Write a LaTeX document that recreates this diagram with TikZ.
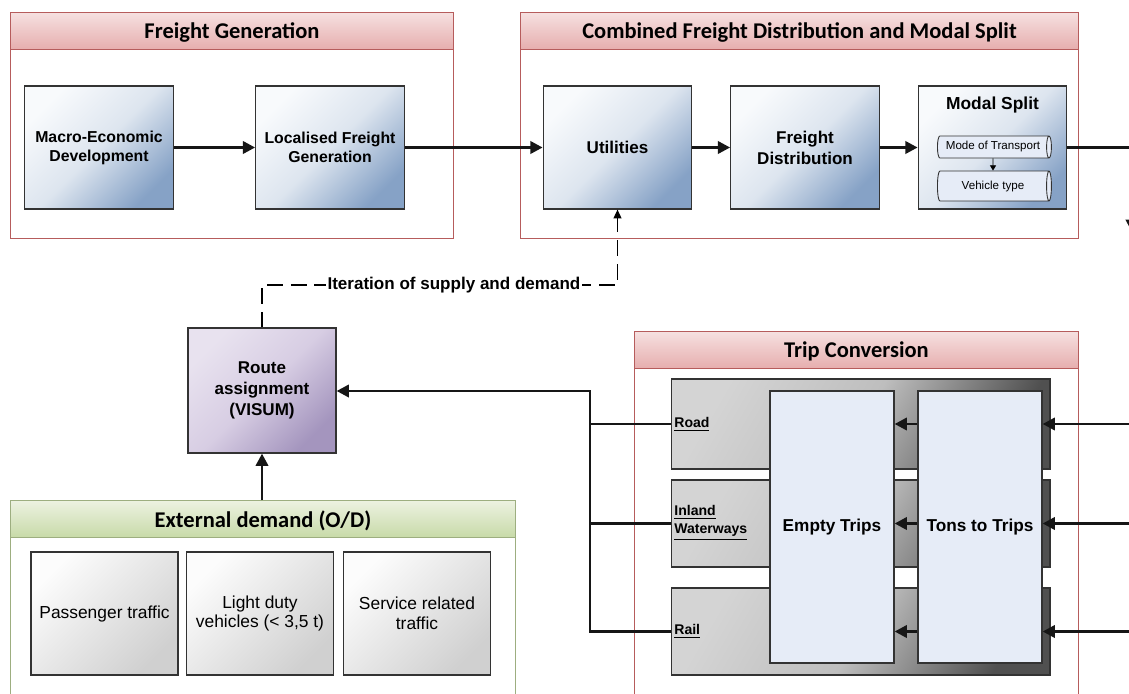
\documentclass[tikz,border=0pt]{standalone}
\usepackage{fontspec}
\setmainfont{Liberation Sans}
\newfontfamily\headfont{Carlito}
\usepackage{xcolor}
\usetikzlibrary{
  arrows.meta,
  positioning,
  shapes.geometric,
}

\definecolor{headtop}{HTML}{F6E0E0}
\definecolor{headbot}{HTML}{E6AEAE}
\definecolor{panelred}{HTML}{B65C5C}
\definecolor{greentop}{HTML}{ECF2E1}
\definecolor{greenbot}{HTML}{C8DAA8}
\definecolor{panelgreen}{HTML}{9DAE80}
\definecolor{bluelight}{HTML}{F8FAFC}
\definecolor{bluemid}{HTML}{DDE5EF}
\definecolor{bluedark}{HTML}{86A2C6}
\definecolor{purplelight}{HTML}{E8E2EF}
\definecolor{purplemid}{HTML}{D7CDE3}
\definecolor{purpledark}{HTML}{A495BE}
\definecolor{greylight}{HTML}{FCFCFC}
\definecolor{greydark}{HTML}{D0D0D0}
\definecolor{rowlight}{HTML}{D4D4D4}
\definecolor{rowmid}{HTML}{BEBEBE}
\definecolor{rowdark}{HTML}{505050}
\definecolor{tripfill}{HTML}{E6ECF7}
\definecolor{boxline}{HTML}{333333}
\definecolor{arrowline}{HTML}{161616}

\begin{document}
\begin{tikzpicture}[
  x=0.02cm, y=-0.02cm,
  every node/.style={align=center},
  panel/.style 2 args={draw=#1, line width=0.6pt, fill=white, anchor=north west,
               minimum width=#2, inner sep=0pt},
  panelhead/.style 2 args={draw=panelred, line width=0.6pt, anchor=north west,
               top color=headtop, bottom color=headbot, minimum width=#1,
               minimum height=0.74cm, inner sep=0pt, text depth=0pt,
               font=\headfont\bfseries\fontsize{12.8}{14}\selectfont},
  stage/.style={draw=boxline, line width=0.7pt, top color=bluelight,
               bottom color=bluedark, middle color=bluemid, shading angle=45,
               minimum width=2.97cm, minimum height=2.46cm, inner sep=1pt,
               font=\bfseries\fontsize{9.7}{11.9}\selectfont},
  odbox/.style={draw=boxline, line width=0.6pt, top color=greylight,
               bottom color=greydark, shading angle=45,
               minimum width=2.94cm, minimum height=2.46cm, inner sep=1pt,
               font=\fontsize{9.9}{11.3}\selectfont},
  modebox/.style={draw=boxline, line width=0.6pt, top color=rowlight,
               bottom color=rowdark, middle color=rowmid, shading angle=60,
               minimum width=7.58cm},
  modelabel/.style={anchor=west, align=left, inner sep=0pt,
               font=\bfseries\fontsize{8}{10.2}\selectfont},
  conv/.style={draw=boxline, line width=0.7pt, fill=tripfill,
               minimum width=2.48cm, minimum height=5.44cm,
               font=\bfseries\fontsize{9.8}{12}\selectfont},
  drum/.style={cylinder, draw=boxline, line width=0.5pt, fill=tripfill,
               shape aspect=0.45, minimum height=2.28cm, inner sep=0pt,
               font=\fontsize{6.6}{8}\selectfont},
  flow/.style={draw=arrowline, line width=1.6pt,
               -{Triangle[length=7pt,width=7pt]}},
  link/.style={draw=arrowline, line width=1.6pt},
  iter/.style={line width=0.7pt, dash pattern=on 9pt off 4.5pt,
               -{Triangle[length=5pt,width=4.5pt]}},
]

\useasboundingbox (0,0) rectangle (1129,693);
\clip (0,0) rectangle (1129,693);

% panels
\node[panel={panelred}{8.86cm}, minimum height=4.52cm] (fgpanel) at (10,12) {};
\node[panelhead={8.86cm}{}] (fghead) at (10,12) {Freight Generation};
\node[panel={panelred}{11.16cm}, minimum height=4.52cm] (cdpanel) at (520,12) {};
\node[panelhead={11.16cm}{}] (cdhead) at (520,12)
  {Combined Freight Distribution and Modal Split};
\node[panel={panelred}{8.88cm}, minimum height=7.48cm] (tcpanel) at (634,331) {};
\node[panelhead={8.88cm}{}] (tchead) at (634,331) {Trip Conversion};
\node[panel={panelgreen}{10.1cm}, minimum height=4.1cm] (edpanel) at (10,500) {};
\node[panelhead={10.1cm}{}, draw=panelgreen, top color=greentop,
      bottom color=greenbot] (edhead) at (10,500) {External demand (O/D)};

% freight generation and distribution stages
\node[stage, font=\bfseries\fontsize{9}{10.8}\selectfont] (macro) at (99,147.5)
  {Macro-Economic\\Development};
\node[stage, font=\bfseries\fontsize{9}{10.8}\selectfont] (local) at (330,147.5)
  {Localised Freight\\Generation};
\node[stage] (util) at (617.5,147.5) {Utilities};
\node[stage] (fdist) at (805,147.5) {Freight\\Distribution};
\node[stage] (modal) at (992.5,147.5) {};
\node[font=\bfseries\fontsize{9.9}{12}\selectfont] (modaltitle) at (992.5,105)
  {Modal Split};
\node[drum, minimum width=0.44cm] (cmode) at (993,147) {Mode of Transport};
\node[drum, minimum width=0.6cm] (cveh) at (993,186) {Vehicle type};

% route assignment
\node[stage, top color=purplelight, bottom color=purpledark,
      middle color=purplemid, shading angle=45, minimum height=2.5cm,
      minimum width=2.96cm] (route) at (262,390.5)
  {Route\\assignment\\(VISUM)};

% external demand
\foreach \n/\x/\t in {pax/104.5/{Passenger traffic},
                      ldv/260/{Light duty\\vehicles (< 3,5 t)},
                      srv/417/{Service related\\traffic}}{
  \node[odbox] (\n) at (\x,613.5) {\t};
}

% trip conversion
\foreach \n/\y/\h in {road/424/1.8cm, inland/523.5/1.74cm, rail/631.5/1.74cm}{
  \node[modebox, minimum height=\h] (\n) at (860.5,\y) {};
}
\node[conv] (empty) at (832,527) {Empty Trips};
\node[conv] (tons) at (980,527) {Tons to Trips};
\node[modelabel] (roadlbl) at (674,424) {\underline{Road}};
\node[modelabel] (inlandlbl) at (674,523) {\underline{Inland}\\\underline{Waterways}};
\node[modelabel] (raillbl) at (674,631) {\underline{Rail}};

% connectors
\draw[flow] (macro) -- (local);
\draw[flow] (local) -- (util);
\draw[flow] (util) -- (fdist);
\draw[flow] (fdist) -- (modal);
\draw[-{Triangle[length=3pt,width=3.5pt]}, line width=0.5pt]
  (cmode.south) -- (cveh.north);

\coordinate (down) at (1132,232);
\draw[flow] (modal.east) -| (down);

\coordinate (rim) at (1140,0);
\foreach \r in {road,inland,rail}{
  \draw[flow] (\r.east -| rim) -- (tons.east |- \r.east);
  \draw[flow] (tons.west |- \r.east) -- (empty.east |- \r.east);
}

\coordinate (jn) at (590,391);
\draw[link] (road.west) -- (road.west -| jn);
\draw[link] (inland.west) -- (inland.west -| jn);
\draw[flow] (rail.west) -| (jn) -- (route.east |- jn);

\draw[flow] (edhead.north -| route.south) -- (route.south);

\coordinate (iterc) at (617.5,285);
\draw[iter] (route.north) |- node[pos=0.77, fill=white, inner sep=1pt,
    font=\bfseries\fontsize{9.7}{11}\selectfont] (iterlbl)
    {Iteration of supply and demand} (iterc) -- (util.south);

\end{tikzpicture}
\end{document}
